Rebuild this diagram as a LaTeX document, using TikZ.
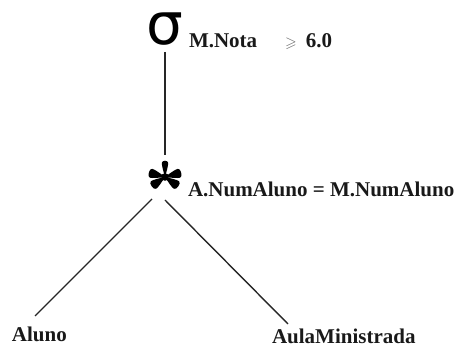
\documentclass[tikz,border=0pt]{standalone}
\usepackage{amssymb}
\usepackage{fontspec}
\setmainfont{Liberation Serif}
\newfontfamily\opfont{DejaVu Sans}
\begin{document}
\begin{tikzpicture}[x=1pt,y=-1pt,
  lbl/.style={font=\fontsize{21}{24}\selectfont\bfseries, inner sep=0pt, outer sep=0pt, text=black!90},
  opsym/.style={font=\opfont\fontsize{58}{58}\selectfont, inner sep=0pt, outer sep=0pt,
    text height=33pt, text depth=1pt},
  edge/.style={line width=1.4pt, black!85},
  petal/.style={fill=black}]
\useasboundingbox (0,0) rectangle (461,347);

% selection operator and its condition
\node[opsym, anchor=base] (sel) at (165,45) {σ};
\node[lbl, anchor=base west] (selcond) at (189,48)
  {M.Nota\hspace{28pt}{\color{black!60}\fontsize{15}{15}\selectfont$\geqslant$}\hspace{9pt}6.0};

% join operator (five-petal asterisk) and its condition
\node[circle, minimum size=44pt, inner sep=0pt, outer sep=0pt] (join) at (165,177) {};
\fill[petal] (join.center) circle [radius=3.8];
\foreach \a/\w/\l in {90/3.2/17, 15/4.6/17.5, 165/4.6/17.5, 215/4.6/17, 325/4.6/17}
  \fill[petal, shift={(join.center)}, rotate=\a]
    (0,0) .. controls (5,0.45*\w) and (\l-6,\w) .. (\l-3,\w)
    .. controls (\l,\w) and (\l,-\w) .. (\l-3,-\w)
    .. controls (\l-6,-\w) and (5,-0.45*\w) .. (0,0);
\node[lbl, anchor=base west] (joincond) at (188,197) {A.NumAluno = M.NumAluno};

% relations
\node[lbl, anchor=base west] (aluno) at (12,342) {Aluno};
\node[lbl, anchor=base west] (aula) at (272,344) {AulaMinistrada};

% connector end points
\coordinate (jl) at (152,199);
\coordinate (jr) at (165,200);
\coordinate (alTop) at (35,316);
\coordinate (amTop) at (288,324);

\draw[edge, shorten <=6pt] (sel) -- (join);
\draw[edge] (jl) -- (alTop);
\draw[edge] (jr) -- (amTop);
\end{tikzpicture}
\end{document}
